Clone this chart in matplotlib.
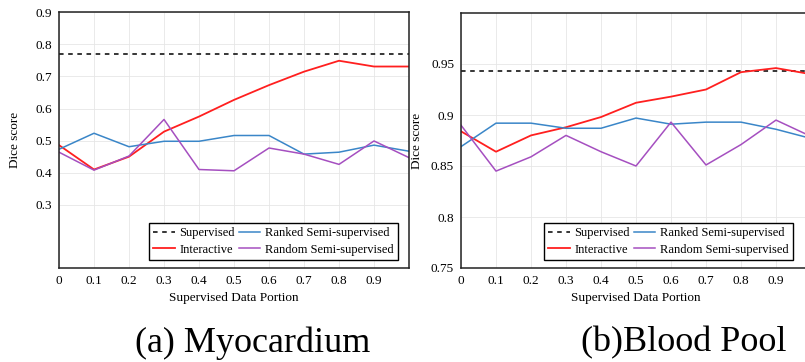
import matplotlib
matplotlib.use("Agg")
import matplotlib.pyplot as plt

plt.rcParams['font.family'] = ['Liberation Serif', 'DejaVu Serif']

x = [0, 0.1, 0.2, 0.3, 0.4, 0.5, 0.6, 0.7, 0.8, 0.9, 1.0]
xticks = [0, 0.1, 0.2, 0.3, 0.4, 0.5, 0.6, 0.7, 0.8, 0.9]
xtick_labels = ['0', '0.1', '0.2', '0.3', '0.4', '0.5', '0.6', '0.7', '0.8', '0.9']

# (a) Myocardium
myo_supervised = 0.770
myo_interactive = [0.486, 0.410, 0.450, 0.528, 0.575, 0.627, 0.673, 0.715, 0.749, 0.731, 0.731]
myo_ranked = [0.473, 0.523, 0.481, 0.498, 0.498, 0.516, 0.516, 0.458, 0.464, 0.486, 0.467]
myo_random = [0.464, 0.408, 0.452, 0.566, 0.410, 0.406, 0.477, 0.458, 0.426, 0.499, 0.447]
myo_yticks = [0.3, 0.4, 0.5, 0.6, 0.7, 0.8, 0.9]

# (b) Blood Pool
bp_supervised = 0.943
bp_interactive = [0.884, 0.864, 0.880, 0.888, 0.898, 0.912, 0.918, 0.925, 0.942, 0.946, 0.940]
bp_ranked = [0.869, 0.892, 0.892, 0.887, 0.887, 0.897, 0.891, 0.893, 0.893, 0.886, 0.877]
bp_random = [0.890, 0.845, 0.859, 0.880, 0.864, 0.850, 0.893, 0.851, 0.871, 0.895, 0.879]
bp_yticks = [0.75, 0.8, 0.85, 0.9, 0.95]
bp_ytick_labels = ['0.75', '0.8', '0.85', '0.9', '0.95']

W, H = 805, 362
fig = plt.figure(figsize=(W / 100, H / 100), dpi=100)

def frac(px0, py0, px1, py1):
    return [px0 / W, 1 - py1 / H, (px1 - px0) / W, (py1 - py0) / H]

ax1 = fig.add_axes(frac(59, 12.3, 409, 268))
ax2 = fig.add_axes(frac(461, 13, 811, 268))

RED = '#ff1f1f'
BLUE = '#3a86c8'
PURPLE = '#a54fc0'

def draw(ax, sup, inter, ranked, rnd, ylim, yticks, ylabels, leg_right, ylab_x):
    ax.axhline(sup, color='black', linestyle=(0, (3, 3)), linewidth=1.1, label='Supervised')
    ax.plot(x, inter, color=RED, linewidth=1.3, label='Interactive')
    ax.plot(x, ranked, color=BLUE, linewidth=1.1, label='Ranked Semi-supervised')
    ax.plot(x, rnd, color=PURPLE, linewidth=1.1, label='Random Semi-supervised')
    ax.set_xlim(0, 1.0)
    ax.set_ylim(*ylim)
    ax.set_xticks(xticks)
    ax.set_xticklabels(xtick_labels)
    ax.set_yticks(yticks)
    ax.set_yticklabels(ylabels)
    ax.grid(True, color='#e6e6e6', linewidth=0.6)
    ax.set_axisbelow(True)
    ax.tick_params(length=0, labelsize=9.5, pad=5)
    for s in ax.spines.values():
        s.set_linewidth(1.1)
        s.set_color('#222222')
    ax.set_xlabel('Supervised Data Portion', fontsize=9.5, labelpad=4)
    ax.set_ylabel('Dice score', fontsize=9.5)
    ax.yaxis.set_label_coords(ylab_x, 0.5)
    h, l = ax.get_legend_handles_labels()
    leg = ax.legend(h, l, ncol=2, loc='lower right',
                    bbox_to_anchor=(leg_right / W, 1 - 260 / H),
                    bbox_transform=fig.transFigure,
                    fontsize=9, frameon=True, fancybox=False, edgecolor='black',
                    framealpha=1, handlelength=1.7, handletextpad=0.4,
                    columnspacing=0.3, labelspacing=0.35, borderpad=0.35,
                    borderaxespad=0)
    leg.get_frame().set_linewidth(1.0)

draw(ax1, myo_supervised, myo_interactive, myo_ranked, myo_random,
     (0.103, 0.9), myo_yticks, [str(v) for v in myo_yticks], 398, -0.109)
draw(ax2, bp_supervised, bp_interactive, bp_ranked, bp_random,
     (0.75, 1.0), bp_yticks, bp_ytick_labels, 793, -0.109)

fig.text(253 / W, 1 - 343 / H, '(a) Myocardium', fontsize=26, ha='center', va='center')
fig.text(684 / W, 1 - 343 / H, '(b)Blood Pool', fontsize=26, ha='center', va='center')

fig.savefig('out.png', dpi=100)
